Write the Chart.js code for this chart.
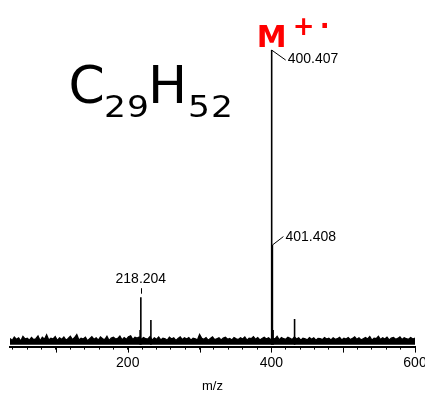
<!DOCTYPE html>
<html><head><meta charset="utf-8">
<script src="https://cdn.jsdelivr.net/npm/chart.js@4/dist/chart.umd.min.js"></script>
<style>
html,body{margin:0;padding:0;background:#fff;overflow:hidden;width:425px;height:397px;}
#wrap{position:relative;width:440px;height:397px;}
canvas{display:block;}
</style></head><body>
<div id="wrap"><canvas id="c" width="440" height="397"></canvas></div>
<script>
// ---- data ----
const noiseStart = 36;
const noiseStep = 3;
const noiseIntensity = [
  2.1,1.4,2.6,1.8,2.3,1.2,2.8,1.9,2.2,1.5,
  2.4,1.7,2.0,2.9,1.3,2.5,1.8,3.3,1.6,2.2,
  1.9,2.7,1.4,2.3,1.8,2.6,1.5,2.1,2.8,1.7,
  2.4,3.4,1.6,2.2,1.9,2.5,1.3,2.0,2.7,1.8,
  2.3,1.5,2.6,2.0,1.7,2.8,1.4,2.2,2.5,1.9,
  2.1,2.9,1.6,2.4,1.8,2.7,3.0,1.7,2.5,2.2,
  2.6,1.8,2.4,2.0,1.9,2.7,1.5,2.3,1.8,2.6,
  1.6,2.2,2.0,1.5,2.5,1.9,2.3,1.4,2.1,2.6,
  1.7,2.3,1.9,2.4,1.5,2.2,2.0,1.6,3.4,2.1,
  1.8,2.4,1.5,2.1,2.6,1.7,2.0,2.3,1.6,2.2,
  2.5,1.8,2.1,1.6,2.4,2.0,1.7,2.3,1.9,2.6,
  1.5,2.2,2.0,2.7,1.8,2.4,1.6,2.1,2.5,1.9,
  2.3,1.7,2.2,1.9,2.8,1.6,2.4,2.0,1.8,2.5,
  2.1,1.7,2.6,1.9,2.3,1.5,2.2,2.0,1.6,2.4,
  1.8,2.3,1.5,2.1,2.0,1.7,2.4,1.9,2.2,1.6,
  2.3,1.8,2.0,2.5,1.6,2.2,1.9,2.4,1.7,2.1,
  2.6,1.8,2.3,1.6,2.0,2.4,1.9,2.7,1.5,2.2,
  2.0,2.8,1.7,2.3,1.9,2.5,1.6,2.2,2.4,1.8,
  2.1,2.6,1.7,2.3,2.0,1.8,2.4,1.9,2.2
];
const peakMz        = [217.2, 218.204, 232.2, 400.407, 401.408, 402.4, 432.3];
const peakIntensity = [5.0,   16.1,    8.4,   100,     33.8,    5.0,   8.7];
const labeledPeaks  = ['218.204', '400.407', '401.408'];
const xTickLabels   = [200, 400, 600];
const majorTicks    = [100, 200, 300, 400, 500, 600];
const formulaParts  = [['C', false], ['29', true], ['H', false], ['52', true]];
const ionLabel      = ['M', '+', '\u00B7'];
const xTitle        = 'm/z';

// ---- build datasets ----
const noiseData = noiseIntensity.map((v, i) => ({x: noiseStart + i * noiseStep, y: v}));
const stickData = [];
peakMz.forEach((m, i) => {
  stickData.push({x: m, y: 0}, {x: m, y: peakIntensity[i]}, {x: m, y: null});
});

const annot = {
  id: 'annot',
  afterDatasetsDraw(chart) {
    const {ctx, scales: {x, y}, chartArea} = chart;
    ctx.save();
    ctx.strokeStyle = '#000';
    ctx.fillStyle = '#000';
    ctx.lineWidth = 1;
    // longer major ticks
    majorTicks.forEach(v => {
      const px = Math.round(x.getPixelForValue(v)) + 0.5;
      ctx.beginPath();
      ctx.moveTo(px, chartArea.bottom);
      ctx.lineTo(px, chartArea.bottom + 6);
      ctx.stroke();
    });
    // peak labels
    ctx.font = '14px "Liberation Sans", Arial, sans-serif';
    ctx.textBaseline = 'middle';
    labeledPeaks.forEach((lab, i) => {
      const mz = parseFloat(lab);
      const idx = peakMz.indexOf(mz);
      const px = x.getPixelForValue(mz);
      const py = y.getPixelForValue(peakIntensity[idx]);
      ctx.beginPath();
      if (i === 0) {
        ctx.moveTo(Math.round(px) + 0.5, py - 9);
        ctx.lineTo(Math.round(px) + 0.5, py - 3.5);
        ctx.stroke();
        ctx.textAlign = 'center';
        ctx.fillText(lab, px, py - 18);
      } else if (i === 1) {
        ctx.moveTo(px, py);
        ctx.lineTo(px + 14, py + 10);
        ctx.stroke();
        ctx.textAlign = 'left';
        ctx.fillText(lab, px + 16, py + 9);
      } else {
        ctx.moveTo(px, py);
        ctx.lineTo(px + 11, py - 8.5);
        ctx.stroke();
        ctx.textAlign = 'left';
        ctx.fillText(lab, px + 13, py - 8);
      }
    });
    // ion label M+.
    const mp = x.getPixelForValue(400.407);
    ctx.fillStyle = '#ff0000';
    ctx.textBaseline = 'alphabetic';
    ctx.textAlign = 'center';
    ctx.font = 'bold 30px "DejaVu Sans"';
    ctx.fillText(ionLabel[0], mp, 46.5);
    ctx.font = 'bold 26px "DejaVu Sans"';
    ctx.fillText(ionLabel[1], mp + 32, 35);
    ctx.fillText(ionLabel[2], mp + 53, 35);
    // formula
    ctx.fillStyle = '#000';
    ctx.textAlign = 'left';
    const fx = [68.5, 104, 148, 188];
    formulaParts.forEach(([t, sub], i) => {
      if (sub) {
        ctx.save();
        ctx.font = '30px "DejaVu Sans"';
        ctx.letterSpacing = '1px';
        ctx.translate(fx[i], 116.5);
        ctx.scale(1.15, 1);
        ctx.fillText(t, 0, 0);
        ctx.restore();
      } else {
        ctx.font = '52px "DejaVu Sans"';
        ctx.fillText(t, fx[i], 103);
      }
    });
    ctx.restore();
  }
};

new Chart(document.getElementById('c'), {
  type: 'line',
  data: {
    datasets: [
      {data: noiseData, borderColor: '#000', backgroundColor: '#000', borderWidth: 1.3,
       fill: 'origin', pointRadius: 0, tension: 0},
      {data: stickData, borderColor: '#000', borderWidth: 1.6, fill: false,
       pointRadius: 0, spanGaps: false, tension: 0}
    ]
  },
  options: {
    responsive: false,
    animation: false,
    devicePixelRatio: 1,
    layout: {padding: {left: 10, right: 25, top: 0, bottom: 1}},
    plugins: {legend: {display: false}, tooltip: {enabled: false}},
    scales: {
      x: {
        type: 'linear', min: 36, max: 600,
        border: {display: true, color: '#000', width: 2},
        grid: {display: true, drawOnChartArea: false, drawTicks: true, tickLength: 3,
               color: '#000', tickColor: '#000', lineWidth: 1},
        ticks: {stepSize: 20, includeBounds: false, autoSkip: false, maxRotation: 0, minRotation: 0,
                padding: 5, color: '#000', font: {family: '"Liberation Sans", Arial, sans-serif', size: 14},
                callback: v => xTickLabels.includes(v) ? String(v) : ''},
        title: {display: true, text: xTitle, color: '#000',
                font: {family: '"Liberation Sans", Arial, sans-serif', size: 13},
                padding: {top: 2, bottom: 2}}
      },
      y: {display: false, min: -0.67, max: 117}
    }
  },
  plugins: [annot]
});
</script>
</body></html>
